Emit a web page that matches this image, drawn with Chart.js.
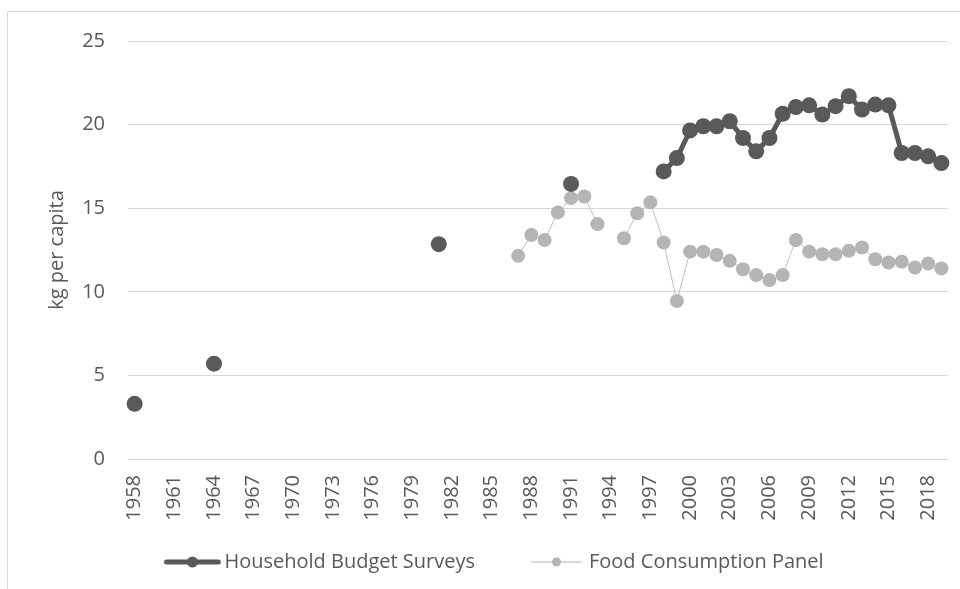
<!DOCTYPE html>
<html>
<head>
<meta charset="utf-8">
<script src="https://cdn.jsdelivr.net/npm/chart.js@4"></script>
<style>
  html, body { margin: 0; padding: 0; background: #fff; }
  #wrap { position: absolute; left: 0; top: 0; width: 960px; height: 589px; }
</style>
</head>
<body>
<div id="wrap"><canvas id="chart"></canvas></div>
<script>
// ---- data ----
const firstYear = 1958;
const lastYear = 2019;

const hbsYears = [1958, 1964, 1981, 1991,
  1998, 1999, 2000, 2001, 2002, 2003, 2004, 2005, 2006, 2007, 2008,
  2009, 2010, 2011, 2012, 2013, 2014, 2015, 2016, 2017, 2018, 2019];
const hbsValues = [3.3, 5.7, 12.85, 16.45,
  17.2, 18.0, 19.65, 19.9, 19.9, 20.2, 19.2, 18.4, 19.2, 20.65, 21.05,
  21.15, 20.6, 21.1, 21.7, 20.9, 21.2, 21.15, 18.3, 18.3, 18.1, 17.7];

const fcpYears = [1987, 1988, 1989, 1990, 1991, 1992, 1993,
  1995, 1996, 1997, 1998, 1999, 2000, 2001, 2002, 2003, 2004, 2005,
  2006, 2007, 2008, 2009, 2010, 2011, 2012, 2013, 2014, 2015, 2016,
  2017, 2018, 2019];
const fcpValues = [12.15, 13.4, 13.1, 14.75, 15.6, 15.7, 14.05,
  13.2, 14.7, 15.35, 12.95, 9.45, 12.4, 12.4, 12.2, 11.85, 11.35, 11.0,
  10.7, 11.0, 13.1, 12.4, 12.25, 12.25, 12.45, 12.65, 11.95, 11.75, 11.8,
  11.45, 11.7, 11.4];

const yTicks = [0, 5, 10, 15, 20, 25];

// ---- build category series ----
const years = [];
for (let y = firstYear; y <= lastYear; y++) years.push(String(y));

function toSeries(ys, vs) {
  return years.map(y => {
    const i = ys.indexOf(Number(y));
    return i === -1 ? null : vs[i];
  });
}

const DARK = "#595959";
const LIGHT = "#b5b5b5";
const LIGHT_LINE = "#bfbfbf";
const TEXT = "#595959";
const FONT = "'Open Sans', 'Liberation Sans', sans-serif";
const FONT_SIZE = 20;

// legend icon: 94 px wide, drawn centred on an 80 px legend box
function legendIcon(color, lineWidth, radius, lineStart, lineEnd) {
  const c = document.createElement("canvas");
  c.width = 94;
  c.height = 20;
  const g = c.getContext("2d");
  g.strokeStyle = color;
  g.lineWidth = lineWidth;
  g.lineCap = lineWidth > 2 ? "round" : "butt";
  g.beginPath();
  g.moveTo(lineStart, 10);
  g.lineTo(lineEnd, 10);
  g.stroke();
  g.fillStyle = color;
  g.beginPath();
  g.arc((lineStart + lineEnd) / 2, 10, radius, 0, Math.PI * 2);
  g.fill();
  return c;
}

const icons = [
  legendIcon(DARK, 5, 5.5, 39, 91),
  legendIcon(LIGHT, 1, 4.5, 39, 90)
];

const borderPlugin = {
  id: "outerBorder",
  afterDraw(chart) {
    const ctx = chart.ctx;
    ctx.save();
    ctx.strokeStyle = "#d9d9d9";
    ctx.lineWidth = 1;
    ctx.strokeRect(7.5, 11.5, 1200, 1200);
    ctx.restore();
  }
};

new Chart(document.getElementById("chart"), {
  type: "line",
  data: {
    labels: years,
    datasets: [
      {
        label: "Household Budget Surveys",
        data: toSeries(hbsYears, hbsValues),
        borderColor: DARK,
        backgroundColor: DARK,
        borderWidth: 5,
        pointRadius: 8,
        pointBackgroundColor: DARK,
        pointBorderWidth: 0,
        spanGaps: false,
        tension: 0
      },
      {
        label: "Food Consumption Panel",
        data: toSeries(fcpYears, fcpValues),
        borderColor: LIGHT_LINE,
        backgroundColor: LIGHT,
        borderWidth: 1,
        pointRadius: 7,
        pointBackgroundColor: LIGHT,
        pointBorderWidth: 0,
        spanGaps: false,
        tension: 0
      }
    ]
  },
  options: {
    responsive: true,
    maintainAspectRatio: false,
    animation: false,
    layout: { padding: { top: 41, right: 2, bottom: 7, left: 0 } },
    plugins: {
      tooltip: { enabled: false },
      legend: {
        position: "bottom",
        labels: {
          color: TEXT,
          font: { family: FONT, size: FONT_SIZE },
          usePointStyle: true,
          pointStyleWidth: 80,
          padding: 24,
          generateLabels(chart) {
            return chart.data.datasets.map((ds, i) => ({
              text: ds.label,
              pointStyle: icons[i],
              fillStyle: ds.backgroundColor,
              strokeStyle: ds.borderColor,
              lineWidth: 0,
              fontColor: TEXT,
              hidden: false,
              datasetIndex: i
            }));
          }
        }
      }
    },
    scales: {
      x: {
        type: "category",
        offset: true,
        grid: { display: false },
        border: { display: false },
        afterFit(scale) {
          scale.height = 69;
          scale.paddingLeft = 0;
          scale.paddingRight = 12;
        },
        ticks: {
          color: TEXT,
          font: { family: FONT, size: FONT_SIZE },
          autoSkip: false,
          minRotation: 90,
          maxRotation: 90,
          padding: 8,
          callback(value) {
            const y = Number(this.getLabelForValue(value));
            return (y - firstYear) % 3 === 0 ? String(y) : "";
          }
        }
      },
      y: {
        min: 0,
        max: 25,
        afterBuildTicks(scale) {
          scale.ticks = yTicks.map(v => ({ value: v }));
        },
        afterFit(scale) { scale.width = 128; },
        grid: { color: "#d9d9d9", lineWidth: 1, drawTicks: false },
        border: { display: false },
        ticks: {
          color: TEXT,
          font: { family: FONT, size: FONT_SIZE },
          padding: 23
        },
        title: {
          display: true,
          text: "kg per capita",
          color: TEXT,
          font: { family: FONT, size: FONT_SIZE },
          padding: { top: 45, bottom: 0 }
        }
      }
    }
  },
  plugins: [borderPlugin]
});
</script>
</body>
</html>
